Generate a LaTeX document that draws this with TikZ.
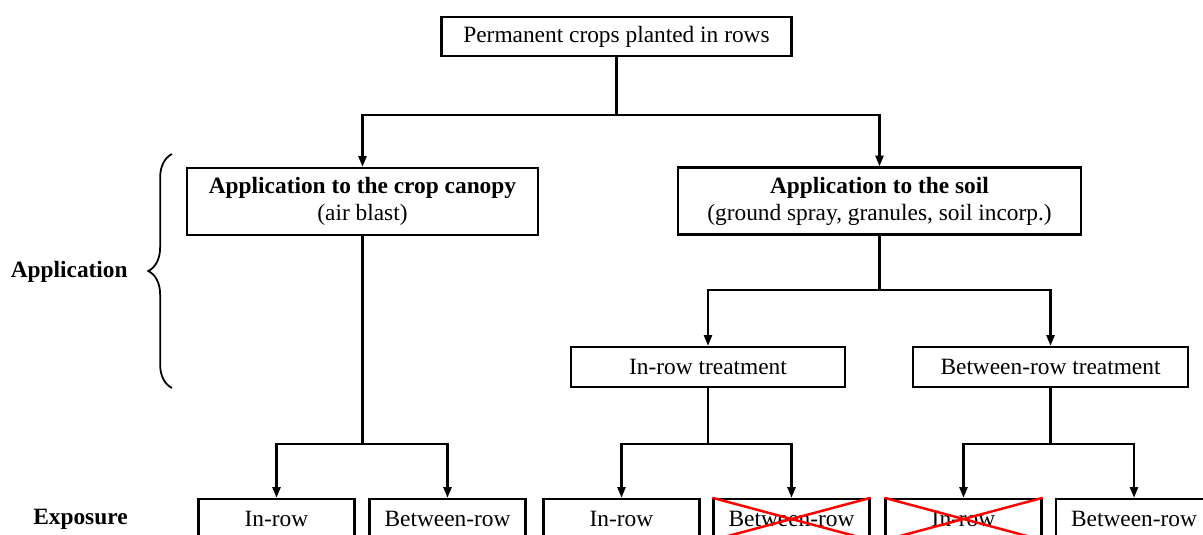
\documentclass[tikz,border=0pt]{standalone}
\usepackage{fontspec}
\setmainfont{Liberation Serif}
\usetikzlibrary{arrows.meta,decorations.pathreplacing}

\tikzset{
  box/.style={draw, line width=1.4pt, inner sep=0pt, align=center,
    font=\fontsize{13.3}{15.3}\selectfont},
  arr/.style={line width=1.3pt, -{Triangle[length=6pt,width=4.5pt]}},
  link/.style={line width=1.3pt},
  cross/.style={red, line width=1.4pt},
  side/.style={anchor=east, inner sep=0pt, font=\fontsize{13.3}{15.3}\selectfont\bfseries},
}

\begin{document}
\begin{tikzpicture}[x=0.02cm, y=-0.02cm]
    \useasboundingbox (0,0) rectangle (1203,534);
    \clip (0,0) rectangle (1203,534);

    \node[box, minimum width=7cm, minimum height=0.78cm] (crops) at (616.5,36.5) {Permanent crops planted in rows};
    \node[box, minimum width=7.02cm, minimum height=1.34cm] (canopy) at (362.5,201.5) {\textbf{Application to the crop canopy}\\(air blast)};
    \node[box, minimum width=8.06cm, minimum height=1.34cm] (soil) at (879.5,201) {\textbf{Application to the soil}\\(ground spray, granules, soil incorp.)};
    \node[box, minimum width=5.48cm, minimum height=0.8cm] (inrow) at (708,367) {In-row treatment};
    \node[box, minimum width=5.5cm, minimum height=0.8cm] (betrow) at (1050.5,367) {Between-row treatment};

    \node[box, minimum width=3.12cm, minimum height=0.8cm] (ex1) at (276.5,519) {In-row};
    \node[box, minimum width=3.12cm, minimum height=0.8cm] (ex2) at (447.5,519) {Between-row};
    \node[box, minimum width=3.12cm, minimum height=0.8cm] (ex3) at (621.5,519) {In-row};
    \node[box, minimum width=3.12cm, minimum height=0.8cm] (ex4) at (791.5,519) {Between-row};
    \node[box, minimum width=3.12cm, minimum height=0.8cm] (ex5) at (963.5,519) {In-row};
    \node[box, minimum width=3.12cm, minimum height=0.8cm] (ex6) at (1134,519) {Between-row};

    \node[side] (app) at (128,272) {Application};
    \node[side] (expo) at (128,519) {Exposure};

    \coordinate (s1) at (616.5,115);
    \coordinate (s2) at (879.5,290);
    \coordinate (s3) at (362.5,444);
    \coordinate (s4) at (708,444);
    \coordinate (s5) at (1050.5,444);

    \draw[link] (crops.south) -- (s1);
    \draw[arr] (s1) -| (canopy);
    \draw[arr] (s1) -| (soil);

    \draw[link] (soil.south) -- (s2);
    \draw[arr] (s2) -| (inrow);
    \draw[arr] (s2) -| (betrow);

    \draw[link] (canopy.south) -- (s3);
    \draw[arr] (s3) -| (ex1);
    \draw[arr] (s3) -| (ex2);

    \draw[link] (inrow.south) -- (s4);
    \draw[arr] (s4) -| (ex3);
    \draw[arr] (s4) -| (ex4);

    \draw[link] (betrow.south) -- (s5);
    \draw[arr] (s5) -| (ex5);
    \draw[arr] (s5) -| (ex6);

    \draw[cross] (ex4.north west) -- (ex4.south east);
    \draw[cross] (ex4.north east) -- (ex4.south west);
    \draw[cross] (ex5.north west) -- (ex5.south east);
    \draw[cross] (ex5.north east) -- (ex5.south west);

    \draw[decorate, decoration={brace, amplitude=13.5pt}, line width=1pt]
    (172,388) -- (172,154);
  \end{tikzpicture}
\end{document}
